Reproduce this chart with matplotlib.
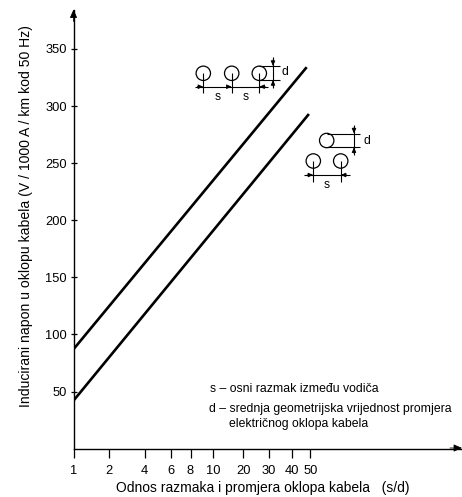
import matplotlib
matplotlib.use('Agg')
import matplotlib.pyplot as plt
from matplotlib.patches import Circle

plt.rcParams['font.family'] = ['Liberation Sans', 'DejaVu Sans']

W, H = 462, 497

# the s/d ticks are not on a true log scale in the original, so keep their positions
x_labels = ['1', '2', '4', '6', '8', '10', '20', '30', '40', '50']
x_pos = [0, 0.257, 0.51, 0.70, 0.84, 1.0, 1.22, 1.40, 1.57, 1.70]
y_ticks = [50, 100, 150, 200, 250, 300, 350]

upper_x = [0, 1.674]
upper_y = [87, 334]
lower_x = [0, 1.69]
lower_y = [42, 293]

fig = plt.figure(figsize=(W / 100, H / 100), dpi=100)
ax = fig.add_axes([73.5 / W, (H - 448.6) / H, 388 / W, 438.6 / H])
ax.set_xlim(0, 388 / 139.3)
ax.set_ylim(0, 438.6 / 1.142)

ax.plot(upper_x, upper_y, color='black', lw=1.9, solid_capstyle='butt')
ax.plot(lower_x, lower_y, color='black', lw=1.9, solid_capstyle='butt')

for side in ['top', 'right']:
    ax.spines[side].set_visible(False)
for side in ['left', 'bottom']:
    ax.spines[side].set_linewidth(1.0)

ax.set_xticks(x_pos, x_labels)
ax.set_yticks(y_ticks)
ax.tick_params(axis='x', direction='out', length=6.5, width=0.9, pad=5, labelsize=9.3)
ax.tick_params(axis='y', direction='inout', length=4.5, width=0.9, pad=2.5, labelsize=9.3)
ax.set_xlabel('Odnos razmaka i promjera oklopa kabela   (s/d)', fontsize=10, labelpad=3, x=0.488)
ax.set_ylabel('Inducirani napon u oklopu kabela (V / 1000 A / km kod 50 Hz)', fontsize=10.1,
              labelpad=9, y=0.53)

# overlay in pixel coordinates for the axis arrows and the cable sketches
ov = fig.add_axes([0, 0, 1, 1])
ov.set_xlim(0, W)
ov.set_ylim(H, 0)
ov.axis('off')
ov.patch.set_alpha(0)


def seg(x0, y0, x1, y1):
    ov.plot([x0, x1], [y0, y1], color='black', lw=0.8, solid_capstyle='butt')


def head(x, y, dx, dy, size=6, hw=0.13, hl=0.3):
    ov.annotate('', xy=(x, y), xytext=(x - dx * size, y - dy * size),
                arrowprops=dict(arrowstyle=f'-|>,head_width={hw},head_length={hl}', color='black',
                                lw=0.6, shrinkA=0, shrinkB=0))


def cable(x, y, r=7.2):
    ov.add_patch(Circle((x, y), r, fill=False, ec='black', lw=0.9))


def label(x, y, s):
    ov.text(x, y, s, fontsize=8.8, ha='center', va='center')


head(73.5, 9.5, 0, -1, 12, 0.22, 0.5)
head(462, 448, 1, 0, 12, 0.22, 0.5)

# three cables in a row
for cx in [203.3, 231.7, 259.3]:
    cable(cx, 73.3)
    seg(cx, 73.3, cx, 93)
seg(195, 86.7, 268, 86.7)
head(203.3, 86.7, 1, 0)
head(231.7, 86.7, 1, 0, 3)
head(259.3, 86.7, -1, 0)
seg(259.3, 66, 280, 66)
seg(259.3, 80, 280, 80)
seg(273, 57, 273, 88)
head(273, 66, 0, 1)
head(273, 80, 0, -1)
label(284.5, 72, 'd')
label(218, 96.5, 's')
label(246, 96.5, 's')

# two cables side by side
cable(326.7, 140.5)
seg(326.7, 133.5, 360, 133.5)
seg(326.7, 147.3, 360, 147.3)
seg(354, 125, 354, 155)
head(354, 133.5, 0, 1)
head(354, 147.3, 0, -1)
label(367, 141, 'd')
for cx in [313.3, 340.7]:
    cable(cx, 161)
    seg(cx, 161, cx, 182)
seg(304, 175, 350, 175)
head(313.3, 175, 1, 0)
head(340.7, 175, -1, 0)
label(327, 184.5, 's')

ov.text(210, 389, 's – osni razmak između vodiča', fontsize=8.8, va='center')
ov.text(209, 409, 'd – srednja geometrijska vrijednost promjera', fontsize=8.8, va='center')
ov.text(229, 424, 'električnog oklopa kabela', fontsize=8.8, va='center')

fig.savefig('out.png', dpi=100)
plt.close(fig)
